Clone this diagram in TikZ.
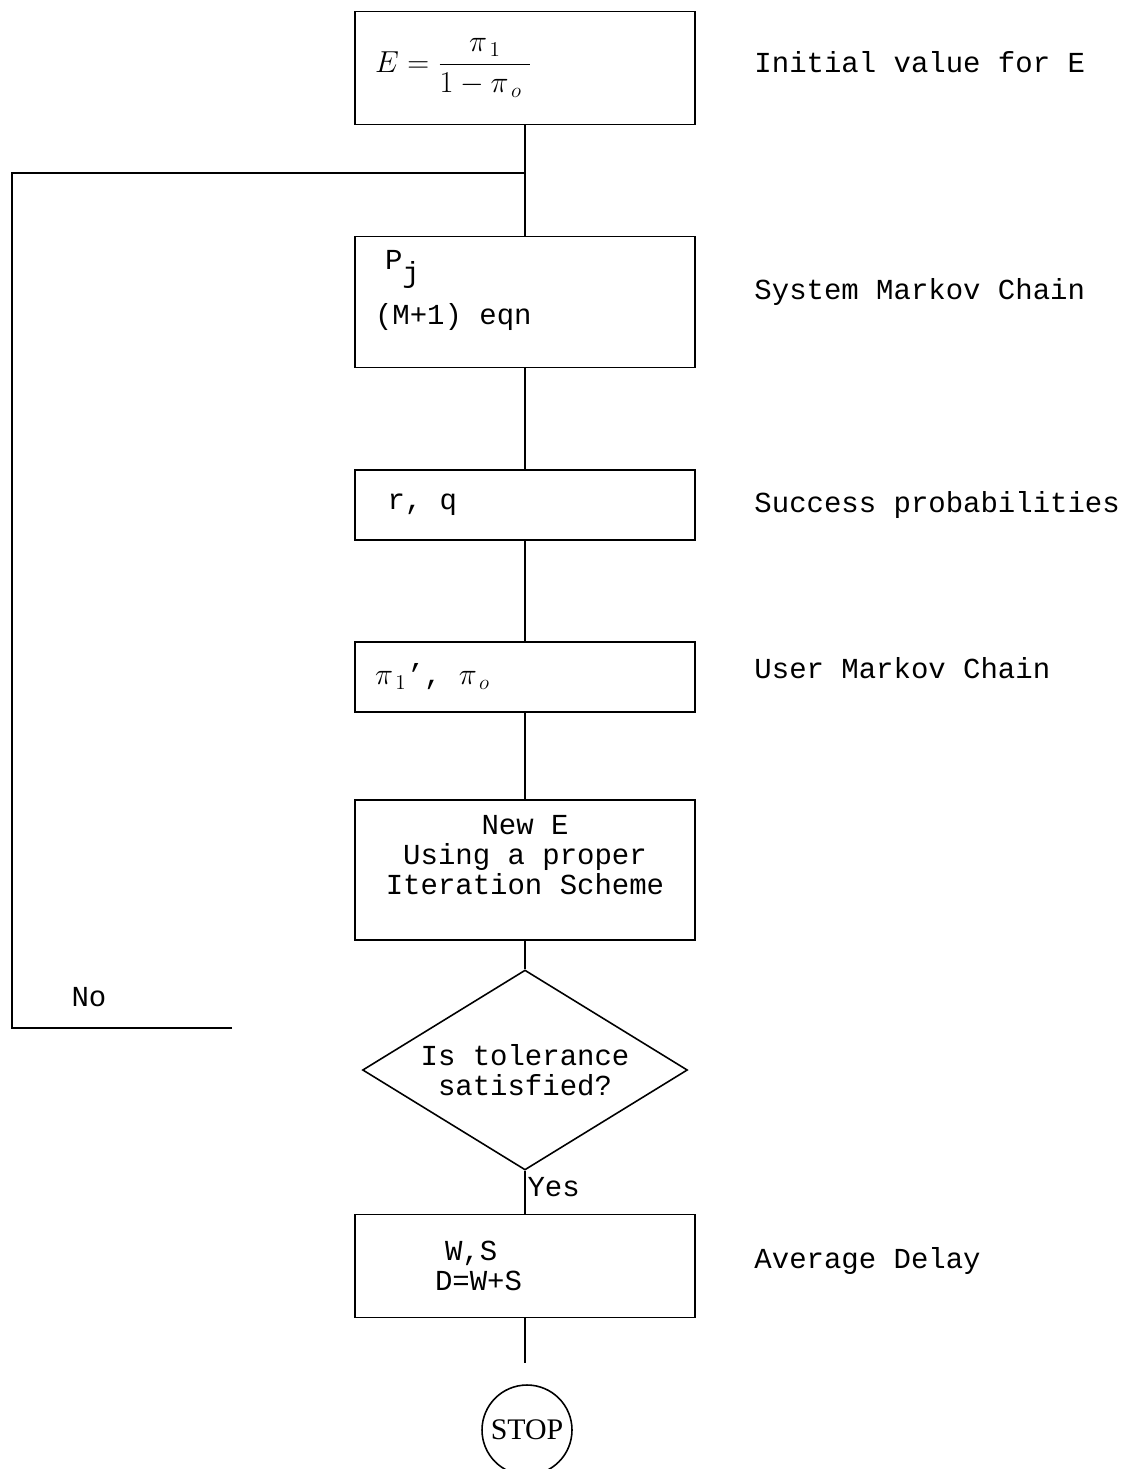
\documentclass[tikz,border=0pt]{standalone}
\usepackage{amsmath}
\usepackage{fontspec}
\setmainfont{Liberation Mono}
\newfontfamily\stopfont{Liberation Serif}
\usepackage{tikz}
\usetikzlibrary{shapes.geometric, positioning}
\tikzstyle{line} = [line width=0.9pt]
\tikzstyle{procbox} = [rectangle, draw=black, line width=0.9pt, minimum width=6.8cm, text width=6.0cm, align=left]
\tikzstyle{decision} = [diamond, aspect=1.63, draw=black, line width=0.9pt, minimum width=6.5cm, minimum height=4cm, inner sep=0pt, align=center]
\tikzstyle{terminal} = [circle, draw=black, line width=0.9pt, minimum size=1.8cm, inner sep=0pt, font=\stopfont\fontsize{17}{19}\selectfont]
\tikzstyle{note} = [align=left]

\begin{document}
\begin{tikzpicture}[x=0.02cm, y=-0.02cm, font=\fontsize{16.5}{17}\selectfont,
    every node/.style={execute at begin node={\spaceskip=\fontdimen2\font\relax}}]
        \useasboundingbox (0,0) rectangle (1142,1469);
        % Nodes
        \node (init) [procbox, minimum height=2.26cm] at (525,68) {$E = \dfrac{\;\pi_{\,1}\;}{1-\pi_{\,o}\;}$};
        \node (markov) [procbox, minimum height=2.62cm] at (525,302) {\hspace*{0.2cm}P\raisebox{-0.9ex}{j}\\[0.25cm](M+1) eqn\\\mbox{}};
        \node (succ) [procbox, minimum height=1.4cm] at (525,505) {\hspace*{0.25cm}r, q};
        \node (user) [procbox, minimum height=1.4cm] at (525,677) {$\pi_{\,1}$', $\pi_{\,o}$};
        \node (newe) [procbox, minimum height=2.8cm, align=center] at (525,870) {New E\\Using a proper\\Iteration Scheme\\\mbox{}};
        \node (tol) [decision] at (525,1070) {Is tolerance\\ satisfied?};
        \node (delay) [procbox, minimum height=2.06cm] at (525,1266) {\hspace*{1.4cm}W,S\\\hspace*{1.2cm}D=W+S};
        \node (stop) [terminal] at (527,1430) {STOP};

        \node (initnote) [note, right=1.05cm of init, yshift=0.12cm] {Initial value for E};
        \node (markovnote) [note, right=1.05cm of markov, yshift=0.2cm] {System Markov Chain};
        \node (succnote) [note, right=1.05cm of succ] {Success probabilities};
        \node (usernote) [note, right=1.05cm of user, yshift=0.18cm] {User Markov Chain};
        \node (delaynote) [note, right=1.05cm of delay, yshift=0.1cm] {Average Delay};

        \coordinate (join) at (init.south |- 0,173);
        \coordinate (noend) at (232,1028);
        \coordinate (stopend) at (delay.south |- 0,1363);

        % Lines
        \draw [line] (init) -- (markov);
        \draw [line] (markov) -- (succ);
        \draw [line] (succ) -- (user);
        \draw [line] (user) -- (newe);
        \draw [line] (newe) -- (tol);
        \draw [line] (tol.south) -- node[pos=0.38, right, inner sep=1pt] {Yes} (delay.north);
        \draw [line] (delay.south) -- (stopend);

        % Loop back when tolerance is not met
        \draw [line] (noend) -- node[pos=0.65, above=0.3cm] {No} (12,1028) |- (join);
    \end{tikzpicture}
\end{document}
